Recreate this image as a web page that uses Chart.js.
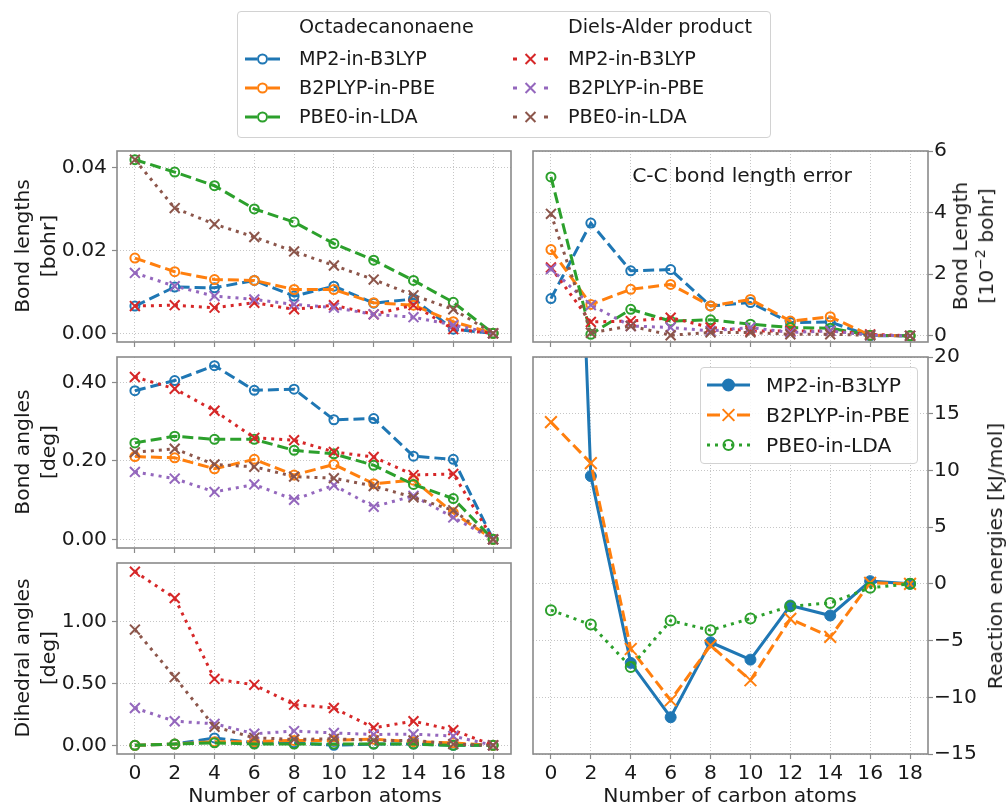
<!DOCTYPE html>
<html>
<head>
<meta charset="utf-8">
<script src="https://cdn.jsdelivr.net/npm/chart.js@4.4.0/dist/chart.umd.min.js"></script>
<style>
  body { margin: 0; background: #fff; width: 1007px; height: 809px; position: relative; overflow: hidden;
         font-family: 'DejaVu Sans', sans-serif; font-size: 20.3px; color: #1a1a1a; }
  canvas { position: absolute; }
  .txt { position: absolute; white-space: nowrap; line-height: 22px; transform: translateY(-50%); }
  .leg { font-size: 19.2px; }
  .ctr { position: absolute; white-space: nowrap; line-height: 22px; transform: translate(-50%, -50%); }
  .rot { position: absolute; white-space: nowrap; line-height: 26px; text-align: center;
         transform: translate(-50%, -50%) rotate(-90deg); }
  .frame { position: absolute; border: 1px solid #d2d2d2; border-radius: 4px; background: rgba(255,255,255,0.85); }
  sup { font-size: 14px; line-height: 0; }
  svg { position: absolute; left: 0; top: 0; }
</style>
</head>
<body>
<canvas id="tl" width="520" height="213" style="left:0;top:139px"></canvas>
<canvas id="ml" width="520" height="213" style="left:0;top:345px"></canvas>
<canvas id="bl" width="520" height="258" style="left:0;top:551px"></canvas>
<canvas id="tr" width="487" height="213" style="left:520px;top:139px"></canvas>
<canvas id="br" width="487" height="464" style="left:520px;top:345px"></canvas>

<div class="rot" style="left:35px;top:246px">Bond lengths<br>[bohr]</div>
<div class="rot" style="left:35px;top:452px">Bond angles<br>[deg]</div>
<div class="rot" style="left:35px;top:658px">Dihedral angles<br>[deg]</div>
<div class="rot" style="left:973px;top:246px">Bond Length<br>[10<sup>&minus;2</sup> bohr]</div>
<div class="rot" style="left:995px;top:556px">Reaction energies [kJ/mol]</div>
<div class="ctr" style="left:315px;top:795px">Number of carbon atoms</div>
<div class="ctr" style="left:730px;top:795px">Number of carbon atoms</div>
<div class="ctr" style="left:742px;top:175px">C-C bond length error</div>

<div class="frame" style="left:237px;top:11px;width:532px;height:125px"></div>
<div class="frame" style="left:700px;top:367px;width:216px;height:95px"></div>
<svg id="handles" width="1007" height="809"></svg>
<div class="txt leg" style="left:299px;top:27px">Octadecanonaene</div>
<div class="txt leg" style="left:568px;top:27px">Diels-Alder product</div>
<div class="txt leg" style="left:299px;top:59px">MP2-in-B3LYP</div>
<div class="txt leg" style="left:299px;top:88px">B2PLYP-in-PBE</div>
<div class="txt leg" style="left:299px;top:117px">PBE0-in-LDA</div>
<div class="txt leg" style="left:568px;top:59px">MP2-in-B3LYP</div>
<div class="txt leg" style="left:568px;top:88px">B2PLYP-in-PBE</div>
<div class="txt leg" style="left:568px;top:117px">PBE0-in-LDA</div>
<div class="txt" style="left:766px;top:385px">MP2-in-B3LYP</div>
<div class="txt" style="left:766px;top:415px">B2PLYP-in-PBE</div>
<div class="txt" style="left:766px;top:445px">PBE0-in-LDA</div>

<script>
const carbons = [0, 2, 4, 6, 8, 10, 12, 14, 16, 18];

// bond length errors [bohr]
const octLenMP2  = [0.0066, 0.0112, 0.0110, 0.0128, 0.0090, 0.0114, 0.0073, 0.0083, 0.0010, 0];
const octLenB2   = [0.0182, 0.0149, 0.0130, 0.0128, 0.0106, 0.0106, 0.0074, 0.0068, 0.0028, 0];
const octLenPBE0 = [0.0420, 0.0390, 0.0357, 0.0301, 0.0269, 0.0217, 0.0177, 0.0128, 0.0075, 0];
const daLenMP2   = [0.0066, 0.0068, 0.0062, 0.0074, 0.0058, 0.0068, 0.0046, 0.0068, 0.0010, 0];
const daLenB2    = [0.0146, 0.0114, 0.0090, 0.0082, 0.0070, 0.0062, 0.0046, 0.0039, 0.0020, 0];
const daLenPBE0  = [0.0420, 0.0303, 0.0264, 0.0233, 0.0198, 0.0164, 0.0130, 0.0092, 0.0058, 0];

// bond angle errors [deg]
const octAngMP2  = [0.379, 0.405, 0.443, 0.380, 0.383, 0.305, 0.308, 0.212, 0.204, 0];
const octAngB2   = [0.211, 0.208, 0.180, 0.204, 0.164, 0.191, 0.142, 0.151, 0.068, 0];
const octAngPBE0 = [0.246, 0.263, 0.255, 0.255, 0.227, 0.218, 0.189, 0.140, 0.104, 0];
const daAngMP2   = [0.414, 0.384, 0.328, 0.259, 0.253, 0.223, 0.210, 0.164, 0.167, 0];
const daAngB2    = [0.172, 0.155, 0.121, 0.140, 0.101, 0.138, 0.083, 0.111, 0.056, 0];
const daAngPBE0  = [0.222, 0.231, 0.191, 0.185, 0.160, 0.156, 0.136, 0.107, 0.074, 0];

// dihedral angle errors [deg]
const octDihMP2  = [0.00, 0.01, 0.06, 0.02, 0.02, 0.00, 0.01, 0.01, 0.00, 0];
const octDihB2   = [0.00, 0.01, 0.03, 0.03, 0.04, 0.04, 0.05, 0.03, 0.02, 0];
const octDihPBE0 = [0.00, 0.01, 0.02, 0.01, 0.01, 0.01, 0.01, 0.01, 0.00, 0];
const daDihMP2   = [1.404, 1.190, 0.537, 0.489, 0.329, 0.302, 0.142, 0.195, 0.123, 0];
const daDihB2    = [0.302, 0.195, 0.174, 0.094, 0.115, 0.100, 0.088, 0.090, 0.075, 0];
const daDihPBE0  = [0.936, 0.551, 0.150, 0.061, 0.048, 0.053, 0.040, 0.040, 0.010, 0];

// C-C bond length error [1e-2 bohr]
const octCCMP2  = [1.21, 3.66, 2.11, 2.15, 0.97, 1.08, 0.43, 0.45, 0.00, 0];
const octCCB2   = [2.80, 1.02, 1.51, 1.67, 0.97, 1.18, 0.48, 0.62, 0.02, 0];
const octCCPBE0 = [5.16, 0.05, 0.86, 0.48, 0.52, 0.38, 0.27, 0.25, 0.02, 0];
const daCCMP2   = [2.22, 0.45, 0.48, 0.59, 0.27, 0.16, 0.16, 0.16, 0.05, 0];
const daCCB2    = [2.17, 1.00, 0.32, 0.27, 0.16, 0.27, 0.11, 0.16, 0.02, 0];
const daCCPBE0  = [3.96, 0.10, 0.32, 0.02, 0.11, 0.11, 0.05, 0.05, 0.02, 0];

// reaction energies [kJ/mol]
const rxnMP2  = [100.0, 9.5, -6.97, -11.76, -5.15, -6.68, -1.91, -2.79, 0.24, 0];
const rxnB2   = [14.26, 10.65, -5.74, -10.26, -5.44, -8.50, -3.09, -4.68, 0.09, 0];
const rxnPBE0 = [-2.32, -3.59, -7.32, -3.24, -4.09, -3.06, -1.97, -1.68, -0.35, 0];

const methods = ['MP2-in-B3LYP', 'B2PLYP-in-PBE', 'PBE0-in-LDA'];
const octColors = ['#1f77b4', '#ff7f0e', '#2ca02c'];
const daColors  = ['#d62728', '#9467bd', '#8c564b'];

const FONT = { family: "'DejaVu Sans', sans-serif", size: 20.3 };
const TXT = '#1a1a1a';
const SPINE = '#8a8a8a';
const GRID = '#b8b8b8';
const DASH = [11, 5];
const DOT = [3, 5];

const pts = vals => carbons.map((c, k) => ({ x: c, y: vals[k] }));

function octSet(i, vals) {
  return {
    label: methods[i], data: pts(vals), borderColor: octColors[i], borderWidth: 3, borderDash: DASH,
    pointStyle: 'circle', pointRadius: 4.5, pointBorderWidth: 2, pointBorderColor: octColors[i],
    pointBackgroundColor: 'rgba(0,0,0,0)', order: -i, clip: 10
  };
}

function daSet(i, vals) {
  return {
    label: methods[i], data: pts(vals), borderColor: daColors[i], borderWidth: 3, borderDash: DOT,
    pointStyle: 'crossRot', pointRadius: 7, pointBorderWidth: 2, pointBorderColor: daColors[i],
    pointBackgroundColor: daColors[i], order: -3 - i, clip: 10
  };
}

function xScale(labels) {
  return {
    type: 'linear', min: -0.9, max: 18.9,
    afterBuildTicks: s => { s.ticks = carbons.map(v => ({ value: v })); },
    ticks: { display: labels, font: FONT, color: TXT, padding: 3, maxRotation: 0, autoSkip: false,
             callback: v => String(v) },
    grid: { color: GRID, lineWidth: 0.8, tickColor: SPINE, tickLength: 5, tickWidth: 1.2 },
    border: { display: false, dash: [1, 2] },
    afterFit: s => { s.height = labels ? 55 : 10; s.paddingLeft = 0; s.paddingRight = 0; }
  };
}

function yScale(pos, min, max, tickVals, fmt, width) {
  return {
    type: 'linear', position: pos, min: min, max: max,
    afterBuildTicks: s => { s.ticks = tickVals.map(v => ({ value: v })); },
    ticks: { font: FONT, color: TXT, padding: pos === 'left' ? 5 : 1, callback: fmt },
    grid: { color: GRID, lineWidth: 0.8, tickColor: SPINE, tickLength: 5, tickWidth: 1.2 },
    border: { display: false, dash: [1, 2] },
    afterFit: s => { s.width = width; s.paddingTop = 0; s.paddingBottom = 0; }
  };
}

// axes box drawn over the data, like the spines
const frame = {
  id: 'frame',
  afterDraw(chart) {
    const { ctx, chartArea: a } = chart;
    ctx.save();
    ctx.strokeStyle = SPINE;
    ctx.lineWidth = 1.6;
    ctx.strokeRect(a.left, a.top, a.right - a.left, a.bottom - a.top);
    ctx.restore();
  }
};

function makeChart(id, pad, datasets, yCfg, xLabels) {
  return new Chart(document.getElementById(id), {
    type: 'line',
    data: { datasets },
    options: {
      responsive: false, animation: false, devicePixelRatio: 1, events: [],
      layout: { padding: pad },
      plugins: { legend: { display: false }, tooltip: { enabled: false } },
      scales: { x: xScale(xLabels), y: yCfg }
    },
    plugins: [frame]
  });
}

const two = v => v.toFixed(2);
const minus = v => (v < 0 ? '\u2212' + (-v) : String(v));
const leftPad = { top: 12, right: 7, left: 0, bottom: 0 };
const rightPad = { top: 12, right: 0, left: 13, bottom: 0 };

makeChart('tl', leftPad,
  [octSet(0, octLenMP2), octSet(1, octLenB2), octSet(2, octLenPBE0),
   daSet(0, daLenMP2), daSet(1, daLenB2), daSet(2, daLenPBE0)],
  yScale('left', -0.0021, 0.0441, [0, 0.02, 0.04], two, 117), false);

makeChart('ml', leftPad,
  [octSet(0, octAngMP2), octSet(1, octAngB2), octSet(2, octAngPBE0),
   daSet(0, daAngMP2), daSet(1, daAngB2), daSet(2, daAngPBE0)],
  yScale('left', -0.022, 0.465, [0, 0.2, 0.4], two, 117), false);

makeChart('bl', leftPad,
  [octSet(0, octDihMP2), octSet(1, octDihB2), octSet(2, octDihPBE0),
   daSet(0, daDihMP2), daSet(1, daDihB2), daSet(2, daDihPBE0)],
  yScale('left', -0.07, 1.474, [0, 0.5, 1.0], two, 117), true);

makeChart('tr', rightPad,
  [octSet(0, octCCMP2), octSet(1, octCCB2), octSet(2, octCCPBE0),
   daSet(0, daCCMP2), daSet(1, daCCB2), daSet(2, daCCPBE0)],
  yScale('right', -0.2, 6, [0, 2, 4, 6], v => String(v), 79), false);

const brClip = { left: 10, right: 10, top: 0, bottom: 10 };
makeChart('br', rightPad, [
  { label: methods[0], data: pts(rxnMP2), borderColor: octColors[0], borderWidth: 3,
    pointStyle: 'circle', pointRadius: 5.5, pointBorderWidth: 1, pointBorderColor: octColors[0],
    pointBackgroundColor: octColors[0], order: 0, clip: brClip },
  { label: methods[1], data: pts(rxnB2), borderColor: octColors[1], borderWidth: 3, borderDash: DASH,
    pointStyle: 'crossRot', pointRadius: 8.3, pointBorderWidth: 2, pointBorderColor: octColors[1],
    pointBackgroundColor: octColors[1], order: -1, clip: brClip },
  { label: methods[2], data: pts(rxnPBE0), borderColor: octColors[2], borderWidth: 3, borderDash: DOT,
    pointStyle: 'circle', pointRadius: 5, pointBorderWidth: 2, pointBorderColor: octColors[2],
    pointBackgroundColor: 'rgba(0,0,0,0)', order: -2, clip: brClip }
], yScale('right', -15, 20, [-15, -10, -5, 0, 5, 10, 15, 20], minus, 79), true);

// legend handles
const NS = 'http://www.w3.org/2000/svg';
const svg = document.getElementById('handles');
function el(tag, attrs) {
  const e = document.createElementNS(NS, tag);
  for (const k in attrs) e.setAttribute(k, attrs[k]);
  svg.appendChild(e);
}
function handle(x0, x1, y, color, dash, marker, r, fill) {
  el('line', { x1: x0, x2: x1, y1: y, y2: y, stroke: color, 'stroke-width': 3,
               'stroke-dasharray': dash ? dash.join(' ') : 'none' });
  const cx = (x0 + x1) / 2;
  if (marker === 'o') {
    el('circle', { cx: cx, cy: y, r: r, fill: fill, stroke: color, 'stroke-width': 2 });
  } else {
    const d = r * Math.SQRT1_2;
    el('path', { d: `M${cx - d} ${y - d}L${cx + d} ${y + d}M${cx - d} ${y + d}L${cx + d} ${y - d}`,
                 stroke: color, 'stroke-width': 2 });
  }
}
[59, 88, 117].forEach((y, i) => {
  handle(245, 280, y, octColors[i], [12, 11, 12], 'o', 4.5, '#fff');
  handle(513, 548, y, daColors[i], [4, 27, 4], 'x', 7);
});
handle(707, 750, 385, octColors[0], null, 'o', 5.5, octColors[0]);
handle(707, 750, 415, octColors[1], [13, 17, 13], 'x', 8.3);
handle(707, 750, 445, octColors[2], [3, 5], 'o', 5, 'none');
</script>
</body>
</html>
